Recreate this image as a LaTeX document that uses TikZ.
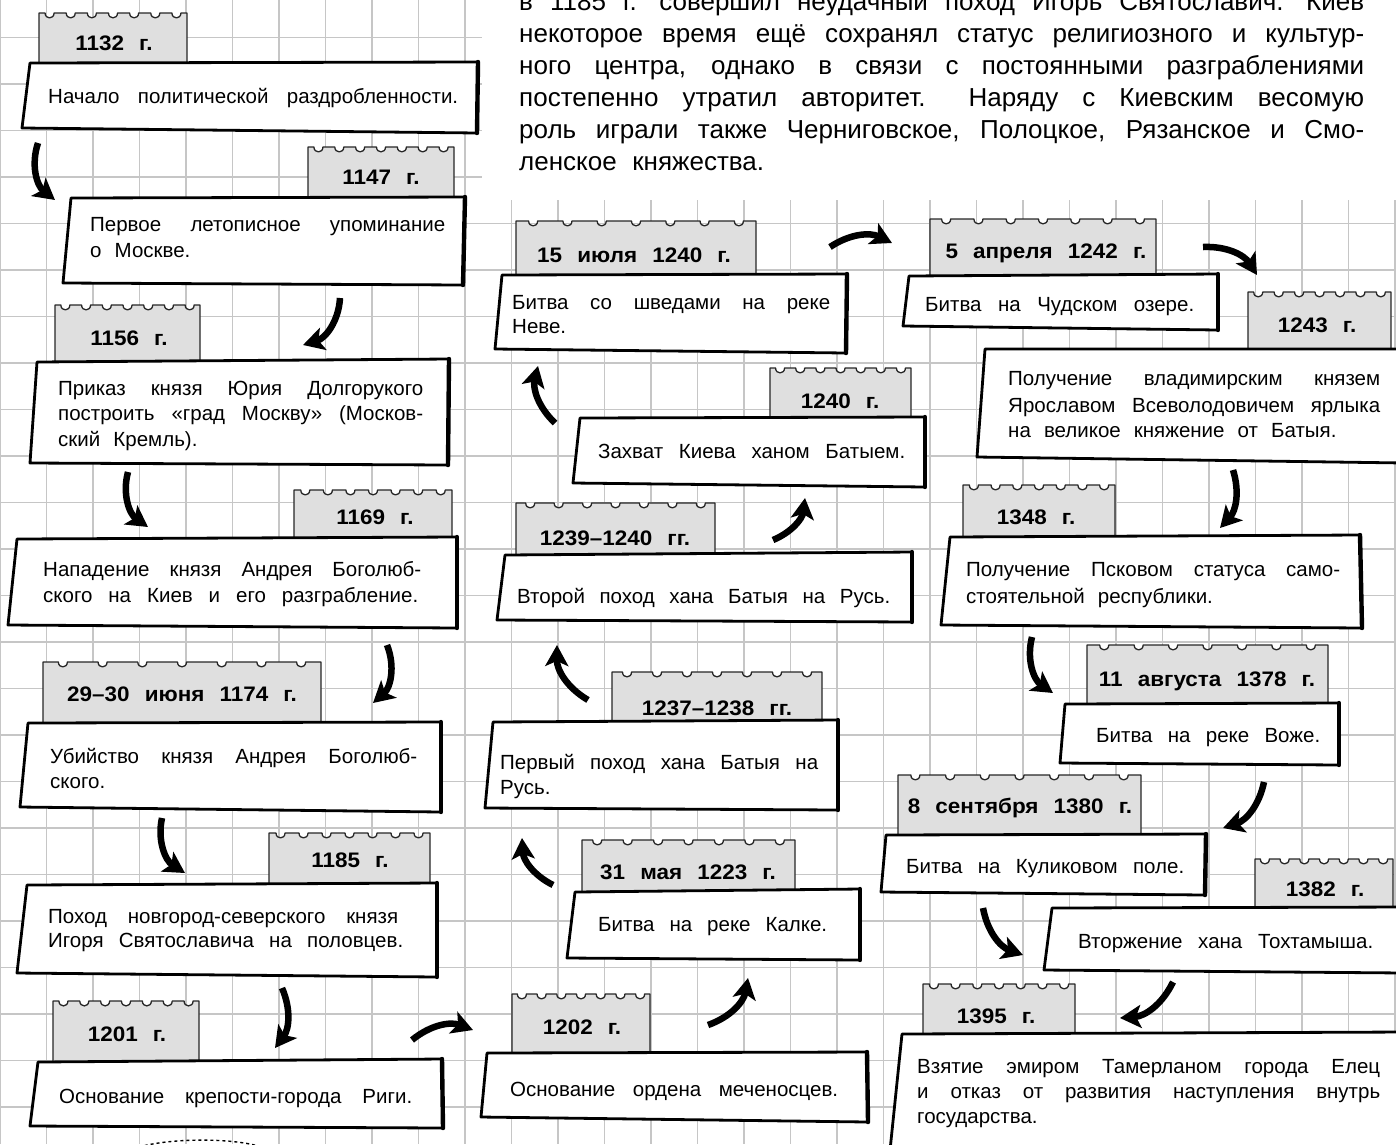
\documentclass[tikz,border=0pt]{standalone}
\usepackage{fontspec}
\setmainfont{Liberation Sans}[WordSpace={2.3,10,0.8}]
\newfontfamily\labelfont{Liberation Sans}[FakeStretch=1.07]
\newfontfamily\introfont{Liberation Sans}
\usetikzlibrary{arrows.meta}
\hbadness=10000
\hfuzz=20pt

\newcommand{\spreadline}[2]{\makebox[#1][s]{#2}}
\newcommand{\datetab}[4]{%
  \filldraw[tabshape] (#1,#4) -- (#1,#3)
  \foreach \k in {0,...,6}{ -- ({#1+(\k+0.5)*(#2-#1)/7-4.5},#3) .. controls +(0,6.5) and +(0,6.5) .. ++(9,0)}
  -- (#2,#3) -- (#2,#4);}
\newcommand{\eventbox}[4]{%
  \filldraw[boxshape] #1 -- #2 -- #3 -- #4 -- cycle;
  \draw[boxedge] #2 -- #3;}

\begin{document}
\begin{tikzpicture}[x=1pt, y=-1pt]
\tikzstyle{gridline} = [draw=gray!45, line width=1.6pt]
\tikzstyle{tabshape} = [fill=gray!25, draw=black!85, line width=1.3pt, line join=round]
\tikzstyle{boxshape} = [fill=white, draw=black, line width=2.8pt, line join=round]
\tikzstyle{boxedge} = [draw=black, line width=4.4pt, line cap=round]
\tikzstyle{datelabel} = [inner sep=0pt, anchor=base, font={\labelfont\bfseries\fontsize{21}{25}\selectfont\spaceskip=0.72em\relax}]
\tikzstyle{eventtext} = [inner sep=0pt, anchor=base west, font=\fontsize{20.5}{25}\selectfont]
\tikzstyle{introtext} = [inner sep=0pt, anchor=base west, font={\introfont\fontsize{26}{32}\selectfont\spaceskip=0.6em plus 3em minus 0.2em\relax}]
\tikzstyle{bigarrow} = [draw=black, line width=6.5pt, -{Stealth[length=21pt,width=23pt,inset=5pt]}]

\useasboundingbox (0,0) rectangle (1396,1144);
\clip (0,0) rectangle (1396,1144);

\foreach \i in {0,...,30} \draw[gridline] (\i*46.5,0) -- (\i*46.5,1144);
\foreach \j in {1,...,24} \draw[gridline] (0,\j*46.5-9) -- (1396,\j*46.5-9);
\fill[white] (482,0) rectangle (1396,200);

\node[introtext] (intro1) at (519,10) {\spreadline{845pt}{в 1185 г. совершил неудачный поход Игорь Святославич. Киев}};
\node[introtext] (intro2) at (519,42) {\spreadline{845pt}{некоторое время ещё сохранял статус религиозного и культур-}};
\node[introtext] (intro3) at (519,74) {\spreadline{845pt}{ного центра, однако в связи с постоянными разграблениями}};
\node[introtext] (intro4) at (519,106) {\spreadline{845pt}{постепенно утратил авторитет. Наряду с Киевским весомую}};
\node[introtext] (intro5) at (519,138) {\spreadline{845pt}{роль играли также Черниговское, Полоцкое, Рязанское и Смо-}};
\node[introtext] (intro6) at (519,170) {ленское княжества.};

\datetab{39}{187}{13}{63}
\eventbox{(30,63)}{(478,62)}{(477,133)}{(22,128)}
\node[datelabel] (d1132) at (114,50) {1132 г.};
\node[eventtext] (e1132) at (48,103) {\spreadline{410pt}{Начало политической раздробленности.}};

\datetab{308}{454}{147}{198}
\eventbox{(71,198)}{(465,197)}{(463,285)}{(63,283)}
\node[datelabel] (d1147) at (381,184) {1147 г.};
\node[eventtext] (e1147a) at (90,231) {\spreadline{355pt}{Первое летописное упоминание}};
\node[eventtext] (e1147b) at (90,257) {о Москве.};

\datetab{55}{200}{305}{362}
\eventbox{(37,362)}{(449,359)}{(448,465)}{(30,463)}
\node[datelabel] (d1156) at (129,345) {1156 г.};
\node[eventtext] (e1156a) at (58,395) {\spreadline{365pt}{Приказ князя Юрия Долгорукого}};
\node[eventtext] (e1156b) at (58,420) {\spreadline{365pt}{построить «град Москву» (Москов-}};
\node[eventtext] (e1156c) at (58,446) {ский Кремль).};

\datetab{294}{452}{490}{539}
\eventbox{(17,539)}{(457,537)}{(457,628)}{(8,625)}
\node[datelabel] (d1169) at (375,524) {1169 г.};
\node[eventtext] (e1169a) at (43,576) {\spreadline{378pt}{Нападение князя Андрея Боголюб-}};
\node[eventtext] (e1169b) at (43,602) {\spreadline{375pt}{ского на Киев и его разграбление.}};

\datetab{43}{321}{662}{723}
\eventbox{(28,723)}{(441,722)}{(441,812)}{(20,807)}
\node[datelabel] (d1174) at (182,701) {29–30 июня 1174 г.};
\node[eventtext] (e1174a) at (50,763) {\spreadline{367pt}{Убийство князя Андрея Боголюб-}};
\node[eventtext] (e1174b) at (50,788) {ского.};

\datetab{269}{430}{833}{885}
\eventbox{(27,885)}{(437,883)}{(437,977)}{(17,973)}
\node[datelabel] (d1185) at (350,867) {1185 г.};
\node[eventtext] (e1185a) at (48,923) {\spreadline{350pt}{Поход новгород-северского князя}};
\node[eventtext] (e1185b) at (48,947) {\spreadline{355pt}{Игоря Святославича на половцев.}};

\datetab{53}{199}{1001}{1062}
\eventbox{(38,1062)}{(442,1059)}{(443,1128)}{(30,1126)}
\node[datelabel] (d1201) at (127,1041) {1201 г.};
\node[eventtext] (e1201) at (59,1103) {\spreadline{353pt}{Основание крепости-города Риги.}};

\datetab{512}{650}{994}{1053}
\eventbox{(487,1053)}{(867,1052)}{(868,1122)}{(481,1117)}
\node[datelabel] (d1202) at (582,1034) {1202 г.};
\node[eventtext] (e1202) at (510,1096) {\spreadline{328pt}{Основание ордена меченосцев.}};

\datetab{582}{795}{840}{892}
\eventbox{(575,892)}{(860,889)}{(860,960)}{(567,958)}
\node[datelabel] (d1223) at (688,879) {31 мая 1223 г.};
\node[eventtext] (e1223) at (598,931) {\spreadline{229pt}{Битва на реке Калке.}};

\datetab{612}{822}{672}{722}
\eventbox{(493,722)}{(838,720)}{(838,810)}{(485,808)}
\node[datelabel] (d1237) at (717,715) {1237–1238 гг.};
\node[eventtext] (e1237a) at (500,769) {\spreadline{318pt}{Первый поход хана Батыя на}};
\node[eventtext] (e1237b) at (500,794) {Русь.};

\datetab{516}{715}{503}{555}
\eventbox{(505,555)}{(912,552)}{(912,622)}{(497,620)}
\node[datelabel] (d1239) at (615,545) {1239–1240 гг.};
\node[eventtext] (e1239) at (517,603) {\spreadline{373pt}{Второй поход хана Батыя на Русь.}};

\datetab{770}{911}{368}{418}
\eventbox{(580,418)}{(925,417)}{(925,487)}{(573,483)}
\node[datelabel] (d1240) at (840,408) {1240 г.};
\node[eventtext] (e1240) at (598,458) {\spreadline{307pt}{Захват Киева ханом Батыем.}};

\datetab{516}{756}{221}{275}
\eventbox{(502,275)}{(847,274)}{(846,353)}{(495,349)}
\node[datelabel] (d1240j) at (634,262) {15 июля 1240 г.};
\node[eventtext] (e1240ja) at (512,309) {\spreadline{318pt}{Битва со шведами на реке}};
\node[eventtext] (e1240jb) at (512,333) {Неве.};

\datetab{930}{1156}{219}{276}
\eventbox{(909,276)}{(1218,274)}{(1218,330)}{(903,326)}
\node[datelabel] (d1242) at (1046,258) {5 апреля 1242 г.};
\node[eventtext] (e1242) at (925,311) {\spreadline{269pt}{Битва на Чудском озере.}};

\datetab{1248}{1391}{292}{349}
\eventbox{(985,349)}{(1405,349)}{(1405,463)}{(977,457)}
\node[datelabel] (d1243) at (1317,332) {1243 г.};
\node[eventtext] (e1243a) at (1008,385) {\spreadline{372pt}{Получение владимирским князем}};
\node[eventtext] (e1243b) at (1008,412) {\spreadline{372pt}{Ярославом Всеволодовичем ярлыка}};
\node[eventtext] (e1243c) at (1008,437) {на великое княжение от Батыя.};

\datetab{963}{1115}{485}{537}
\eventbox{(950,537)}{(1360,535)}{(1362,628)}{(941,625)}
\node[datelabel] (d1348) at (1036,524) {1348 г.};
\node[eventtext] (e1348a) at (966,576) {\spreadline{374pt}{Получение Псковом статуса само-}};
\node[eventtext] (e1348b) at (966,603) {стоятельной республики.};

\datetab{1087}{1328}{645}{704}
\eventbox{(1065,704)}{(1339,703)}{(1339,765)}{(1060,763)}
\node[datelabel] (d1378) at (1207,686) {11 августа 1378 г.};
\node[eventtext] (e1378) at (1096,742) {\spreadline{224pt}{Битва на реке Воже.}};

\datetab{898}{1141}{775}{835}
\eventbox{(886,835)}{(1206,834)}{(1205,895)}{(881,892)}
\node[datelabel] (d1380) at (1020,813) {8 сентября 1380 г.};
\node[eventtext] (e1380) at (906,873) {\spreadline{278pt}{Битва на Куликовом поле.}};

\datetab{1255}{1393}{859}{908}
\eventbox{(1052,908)}{(1405,907)}{(1405,973)}{(1044,970)}
\node[datelabel] (d1382) at (1325,896) {1382 г.};
\node[eventtext] (e1382) at (1078,948) {\spreadline{295pt}{Вторжение хана Тохтамыша.}};

\datetab{923}{1075}{984}{1034}
\eventbox{(902,1034)}{(1405,1032)}{(1405,1160)}{(889,1160)}
\node[datelabel] (d1395) at (996,1023) {1395 г.};
\node[eventtext] (e1395a) at (917,1073) {\spreadline{463pt}{Взятие эмиром Тамерланом города Елец}};
\node[eventtext] (e1395b) at (917,1098) {\spreadline{463pt}{и отказ от развития наступления внутрь}};
\node[eventtext] (e1395c) at (917,1123) {государства.};

\draw[dashed, line width=1.4pt] (128,1152) .. controls (150,1137) and (245,1136) .. (268,1150);

\coordinate (a1s) at (38,143); \coordinate (a1e) at (55,200);
\coordinate (a2s) at (340,298); \coordinate (a2e) at (303,345);
\coordinate (a3s) at (128,472); \coordinate (a3e) at (148,527);
\coordinate (a4s) at (387,645); \coordinate (a4e) at (373,703);
\coordinate (a5s) at (162,818); \coordinate (a5e) at (185,873);
\coordinate (a6s) at (282,988); \coordinate (a6e) at (275,1048);
\coordinate (a7s) at (412,1040); \coordinate (a7e) at (473,1030);
\coordinate (a8s) at (708,1025); \coordinate (a8e) at (748,978);
\coordinate (a9s) at (553,885); \coordinate (a9e) at (522,838);
\coordinate (a10s) at (588,700); \coordinate (a10e) at (557,645);
\coordinate (a11s) at (773,540); \coordinate (a11e) at (805,498);
\coordinate (a12s) at (555,423); \coordinate (a12e) at (538,366);
\coordinate (a13s) at (830,247); \coordinate (a13e) at (892,243);
\coordinate (a14s) at (1203,247); \coordinate (a14e) at (1257,275);
\coordinate (a15s) at (1233,470); \coordinate (a15e) at (1220,528);
\coordinate (a16s) at (1032,637); \coordinate (a16e) at (1053,693);
\coordinate (a17s) at (1264,782); \coordinate (a17e) at (1223,828);
\coordinate (a18s) at (983,908); \coordinate (a18e) at (1023,955);
\coordinate (a19s) at (1173,982); \coordinate (a19e) at (1120,1018);

\draw[bigarrow] (a1s) to[bend right=35] (a1e);
\draw[bigarrow] (a2s) to[bend left=35] (a2e);
\draw[bigarrow] (a3s) to[bend right=35] (a3e);
\draw[bigarrow] (a4s) to[bend left=35] (a4e);
\draw[bigarrow] (a5s) to[bend right=35] (a5e);
\draw[bigarrow] (a6s) to[bend left=30] (a6e);
\draw[bigarrow] (a7s) to[bend left=30] (a7e);
\draw[bigarrow] (a8s) to[bend right=30] (a8e);
\draw[bigarrow] (a9s) to[bend left=30] (a9e);
\draw[bigarrow] (a10s) to[bend left=30] (a10e);
\draw[bigarrow] (a11s) to[bend right=30] (a11e);
\draw[bigarrow] (a12s) to[bend left=30] (a12e);
\draw[bigarrow] (a13s) to[bend left=30] (a13e);
\draw[bigarrow] (a14s) to[bend left=30] (a14e);
\draw[bigarrow] (a15s) to[bend left=30] (a15e);
\draw[bigarrow] (a16s) to[bend right=35] (a16e);
\draw[bigarrow] (a17s) to[bend left=30] (a17e);
\draw[bigarrow] (a18s) to[bend right=30] (a18e);
\draw[bigarrow] (a19s) to[bend left=30] (a19e);
\end{tikzpicture}
\end{document}
